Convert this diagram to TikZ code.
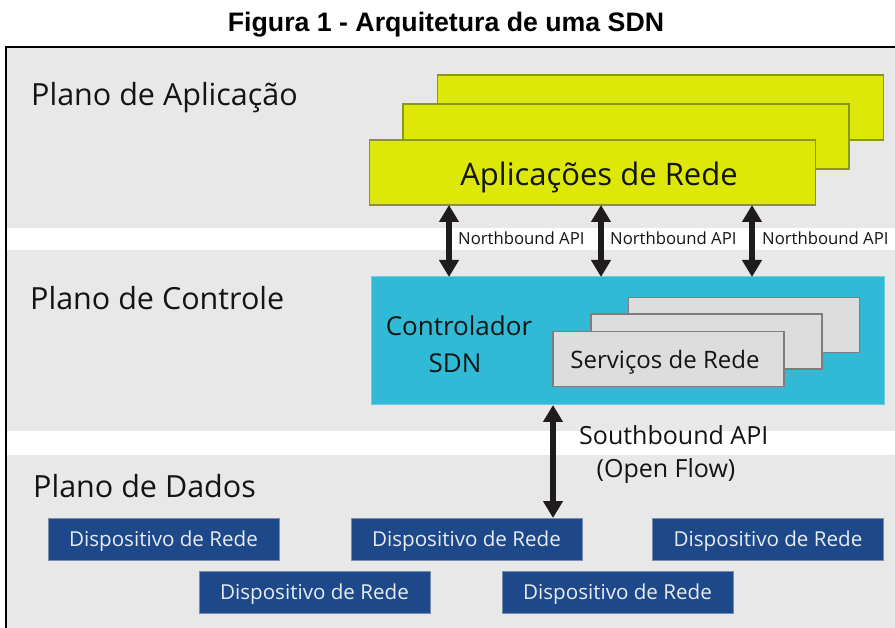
\documentclass[tikz,border=0pt]{standalone}
\usepackage{fontspec}
\setmainfont{Open Sans}
\newfontfamily\titlefont{Liberation Sans}
\usetikzlibrary{arrows.meta}

\definecolor{bandgray}{RGB}{232,232,232}
\definecolor{appfill}{RGB}{221,232,8}
\definecolor{appdraw}{RGB}{140,150,30}
\definecolor{ctrlfill}{RGB}{49,186,214}
\definecolor{ctrldraw}{RGB}{110,205,228}
\definecolor{svcfill}{RGB}{221,221,221}
\definecolor{svcdraw}{RGB}{125,125,125}
\definecolor{devfill}{RGB}{29,72,137}
\definecolor{devdraw}{RGB}{120,140,175}
\definecolor{devtext}{RGB}{232,236,242}
\definecolor{arrowcol}{RGB}{32,28,30}
\definecolor{ink}{RGB}{20,20,20}

\newcommand{\fs}[1]{\fontsize{#1}{#1}\selectfont}

\begin{document}
\begin{tikzpicture}[x=1pt,y=-1pt,
  box/.style={rectangle,inner sep=0pt,outer sep=0pt},
  appbox/.style={box,fill=appfill,draw=appdraw,line width=1.2pt,minimum width=446pt,minimum height=65pt},
  ctrlbox/.style={box,fill=ctrlfill,draw=ctrldraw,line width=1pt,minimum width=513pt,minimum height=128pt},
  svcbox/.style={box,fill=svcfill,draw=svcdraw,line width=1.2pt,minimum width=231pt,minimum height=55pt},
  devbox/.style={box,fill=devfill,draw=devdraw,line width=0.8pt,minimum width=231pt,minimum height=42pt,
    text=devtext,font=\fs{20.6},text height=14.7pt,text depth=0pt},
  planelabel/.style={anchor=base west,inner sep=0pt,text=ink,font=\fs{30.5}},
  apilabel/.style={anchor=base west,inner sep=0pt,text=ink,font=\fs{16.7}},
  dblarrow/.style={draw=arrowcol,line width=5.5pt,
    {Triangle[width=19pt,length=17pt]}-{Triangle[width=19pt,length=17pt]}}
]
\useasboundingbox (0,0) rectangle (895,628);
\fill[white] (0,0) rectangle (895,628);

% title
\node[anchor=base,inner sep=0pt,font=\titlefont\bfseries\fs{26.7}] (title) at (446,32) {Figura 1 - Arquitetura de uma SDN};

% plane bands and frame
\fill[bandgray] (6,47) rectangle (900,228);
\fill[bandgray] (6,250) rectangle (900,431);
\fill[bandgray] (6,455) rectangle (900,640);
\draw[line width=1.4pt] (6,640) -- (6,47) -- (900,47);

% plane names
\node[planelabel] (pApp) at (31,106) {Plano de Aplicação};
\node[planelabel] (pCtl) at (30,310) {Plano de Controle};
\node[planelabel] (pDat) at (33,497) {Plano de Dados};

% application layer: stacked boxes
\node[appbox] (app1) at (660.5,107.5) {};
\node[appbox] (app2) at (626,136.5) {};
\node[appbox] (app3) at (592.5,172.5) {};
\node[anchor=base,inner sep=0pt,text=ink,font=\fs{31}] (apptext) at (599,186) {Aplicações de Rede};

% control layer
\node[ctrlbox] (ctrl) at (627.5,341) {};
\node[anchor=base,inner sep=0pt,text=ink,font=\fs{26}] (ctrltext1) at (459,336) {Controlador};
\node[anchor=base,inner sep=0pt,text=ink,font=\fs{26}] (ctrltext2) at (455,373) {SDN};
\node[svcbox] (svc1) at (744,325) {};
\node[svcbox] (svc2) at (706.5,341.5) {};
\node[svcbox] (svc3) at (668.5,359) {};
\node[anchor=base,inner sep=0pt,text=ink,font=\fs{24}] (svctext) at (665,369) {Serviços de Rede};

% data layer devices
\node[devbox] (dev1) at (163.5,539) {Dispositivo de Rede};
\node[devbox] (dev2) at (466.5,539) {Dispositivo de Rede};
\node[devbox] (dev3) at (768,539) {Dispositivo de Rede};
\node[devbox] (dev4) at (314.5,592) {Dispositivo de Rede};
\node[devbox] (dev5) at (617.5,592) {Dispositivo de Rede};

% northbound interfaces
\coordinate (nb1) at (449,0);
\coordinate (nb2) at (601,0);
\coordinate (nb3) at (752,0);
\draw[dblarrow] (app3.south -| nb1) -- (ctrl.north -| nb1);
\draw[dblarrow] (app3.south -| nb2) -- (ctrl.north -| nb2);
\draw[dblarrow] (app3.south -| nb3) -- (ctrl.north -| nb3);
\node[apilabel] (nbl1) at (458,245) {Northbound API};
\node[apilabel] (nbl2) at (610,245) {Northbound API};
\node[apilabel] (nbl3) at (762,245) {Northbound API};

% southbound interface
\coordinate (sb) at (553,0);
\draw[dblarrow] (ctrl.south -| sb) -- (dev2.north -| sb);
\node[anchor=base west,inner sep=0pt,text=ink,font=\fs{25}] (sbl1) at (579,445) {Southbound API};
\node[anchor=base,inner sep=0pt,text=ink,font=\fs{25}] (sbl2) at (666,478) {(Open Flow)};
\end{tikzpicture}
\end{document}
